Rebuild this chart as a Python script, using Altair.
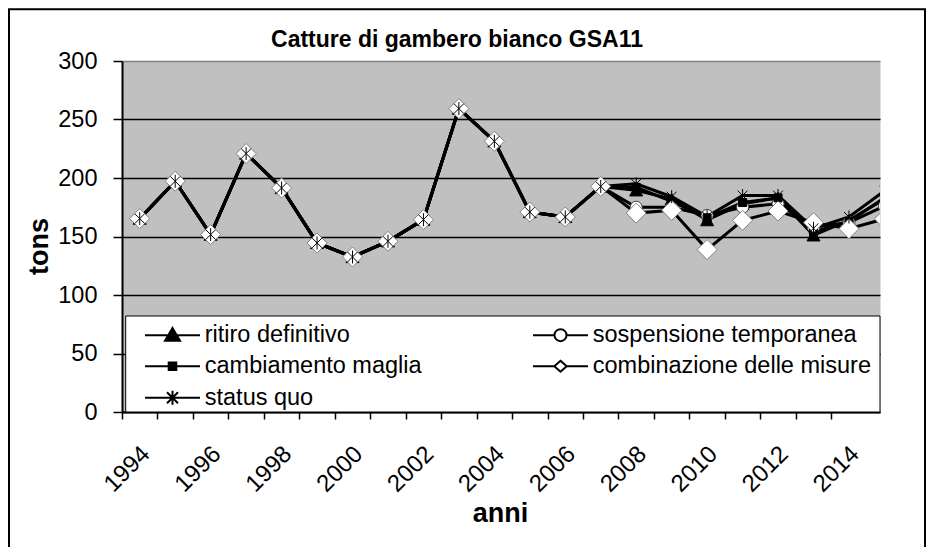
import altair as alt
import pandas as pd

# ---------------- data ----------------
years = list(range(1994, 2016))
storico = [165.3, 197.2, 151.6, 220.9, 191.5, 144.5, 132.5, 145.9, 164.4,
           259.3, 231.4, 170.9, 166.7, 192.8]          # 1994-2007 (common)
ritiro = [189.5, 182.0, 164.0, 178.0, 183.0, 151.0, 163.8, 182.0]       # 2008-2015
sospensione = [175.0, 175.0, 168.0, 175.0, 178.0, 158.0, 162.0, 176.0]
maglia = [192.0, 180.0, 166.0, 179.0, 183.0, 154.0, 163.0, 183.0]
combinazione = [170.0, 172.4, 138.8, 163.8, 171.8, 161.8, 156.7, 165.0]
status_quo = [195.0, 184.0, 167.0, 185.0, 185.0, 157.0, 166.7, 189.0]

series_names = ["ritiro definitivo", "sospensione temporanea", "cambiamento maglia",
                "combinazione delle misure", "status quo"]
futures = [ritiro, sospensione, maglia, combinazione, status_quo]
y_ticks = [0, 50, 100, 150, 200, 250, 300]
title_text = "Catture di gambero bianco GSA11"

rows = []
for name, fut in zip(series_names, futures):
    for yr, v in zip(years, storico + fut):
        rows.append({"anno": yr, "tons": v, "serie": name})
df = pd.DataFrame(rows)

FONT = "Liberation Sans, Arial"
W, H = 758, 351
HALF = W / 21.375 / 2  # half a year in px

x_enc = alt.X(
    "anno:Q",
    scale=alt.Scale(domain=[1993.5, 2014.875], nice=False, zero=False),
    axis=alt.Axis(
        values=years, format="d",
        labelExpr="datum.value % 2 == 0 && datum.value < 2015 ? datum.label : ''",
        tickOffset=-HALF, labelOffset=HALF + 6,
        labelAngle=315, labelAlign="right", labelBaseline="middle",
        labelPadding=31, labelOverlap=False, labelFlush=False, labelBound=False,
        labelFont=FONT, labelFontSize=24, labelColor="black",
        tickColor="black", tickWidth=1.5, tickSize=7,
        domainColor="black", domainWidth=2, grid=False,
        title="anni", titleFont=FONT, titleFontSize=27, titleFontWeight="bold",
        titleColor="black", titleX=378, titleY=101, titleAlign="center",
        titleBaseline="middle",
    ),
)
y_enc = alt.Y(
    "tons:Q",
    scale=alt.Scale(domain=[0, 300], nice=False),
    axis=alt.Axis(
        values=y_ticks, labelFont=FONT, labelFontSize=23.5, labelColor="black",
        labelPadding=16, tickColor="black", tickWidth=1.5, tickSize=9,
        domainColor="black", domainWidth=2,
        grid=True, gridWidth=1.5,
        gridColor={"condition": {"test": "datum.value >= 300", "value": "#808080"},
                   "value": "black"},
        title="tons", titleFont=FONT, titleFontSize=27, titleFontWeight="bold",
        titleColor="black", titleAngle=270, titleX=-83, titleY=185,
        titleAlign="center", titleBaseline="middle",
    ),
)

base = alt.Chart(df)

# lines first (all series), then markers in series order
lines = [
    base.transform_filter(alt.datum.serie == n)
    .mark_line(color="black", strokeWidth=3, clip=True)
    .encode(x=x_enc, y=y_enc)
    for n in series_names
]

star_path = "M0,-1L0,1M-0.75,-0.75L0.75,0.75M-0.75,0.75L0.75,-0.75"
marker_styles = [
    dict(shape="triangle-up", size=170, fill="black", stroke="black", strokeWidth=1),
    dict(shape="circle", size=144, fill="white", stroke="#404040", strokeWidth=1),
    dict(shape="square", size=64, fill="black", stroke="black", strokeWidth=1),
    dict(shape="diamond", size=400, fill="white", stroke="#808080", strokeWidth=1),
    dict(shape=star_path, size=170, fill="transparent", stroke="black", strokeWidth=1),
]
points = [
    base.transform_filter(alt.datum.serie == n)
    .mark_point(filled=False, opacity=1, clip=True, **st)
    .encode(x=x_enc, y=y_enc)
    for n, st in zip(series_names, marker_styles)
]

one = pd.DataFrame({"k": [0]})

# white legend box (decoration)
box = alt.Chart(one).mark_rect(
    fill="white", stroke="black", strokeWidth=1
).encode(x=alt.value(3.7), x2=alt.value(W), y=alt.value(255), y2=alt.value(H))

# outer frame (decoration)
frame = alt.Chart(one).mark_rect(
    fill="transparent", stroke="black", strokeWidth=2
).encode(x=alt.value(-113), x2=alt.value(803), y=alt.value(-51.7), y2=alt.value(560))

# chart title as text
title = alt.Chart(one).mark_text(
    text=title_text, font=FONT, fontSize=23, fontWeight="bold", color="black",
    align="center", baseline="alphabetic",
).encode(x=alt.value(W / 2 - 44), y=alt.value(-14))

# legend symbols: line + marker as one custom path (legend fills column by column)
leg_order = ["ritiro definitivo", "cambiamento maglia", "status quo",
             "sospensione temporanea", "combinazione delle misure"]
leg_paths = [
    "M-2.75,0H2.75M0,-0.72L0.75,0.55L-0.75,0.55Z",
    "M-2.75,0H2.75M-0.38,-0.38H0.38V0.38H-0.38Z",
    "M-2.75,0H2.75M0,-0.7V0.7M-0.55,-0.55L0.55,0.55M-0.55,0.55L0.55,-0.55",
    "M-2.75,0H-0.6M0.6,0H2.75M0.6,0A0.6,0.6,0,1,1,-0.6,0A0.6,0.6,0,1,1,0.6,0Z",
    "M-2.75,0H-0.62M0.62,0H2.75M0,-0.55L0.62,0L0,0.55L-0.62,0Z",
]
leg_fills = ["black", "black", "transparent", "white", "white"]
legend = alt.Legend(
    title=None, orient="none", legendX=23, legendY=262, columns=2,
    columnPadding=107, rowPadding=6.5, gridAlign="each", padding=0,
    symbolSize=400, symbolStrokeWidth=2, symbolStrokeColor="black",
    symbolOffset=15.75, labelOffset=20.5, labelFont=FONT, labelFontSize=23.5,
    labelColor="black", labelLimit=600, symbolOpacity=1,
)
dummy = pd.DataFrame({"serie": series_names, "anno": [2000] * 5, "tons": [-1000] * 5})
legend_layer = alt.Chart(dummy).mark_point(
    filled=True, size=400, strokeWidth=2, opacity=1, clip=True
).encode(
    x=x_enc, y=y_enc,
    shape=alt.Shape("serie:N", scale=alt.Scale(domain=leg_order, range=leg_paths), legend=legend),
    fill=alt.Fill("serie:N", scale=alt.Scale(domain=leg_order, range=leg_fills), legend=legend),
    stroke=alt.Stroke("serie:N", scale=alt.Scale(domain=leg_order, range=["black"] * 5), legend=legend),
)

chart = alt.layer(box, *lines, *points, legend_layer, frame, title).properties(
    width=W, height=H,
    padding={"left": 114, "top": 53, "right": 48, "bottom": 135},
    autosize=alt.AutoSizeParams(type="none"),
    background="white",
).configure_view(fill="#C0C0C0", stroke="transparent")

chart.save("out.html", embed_options={"renderer": "svg", "actions": False})
